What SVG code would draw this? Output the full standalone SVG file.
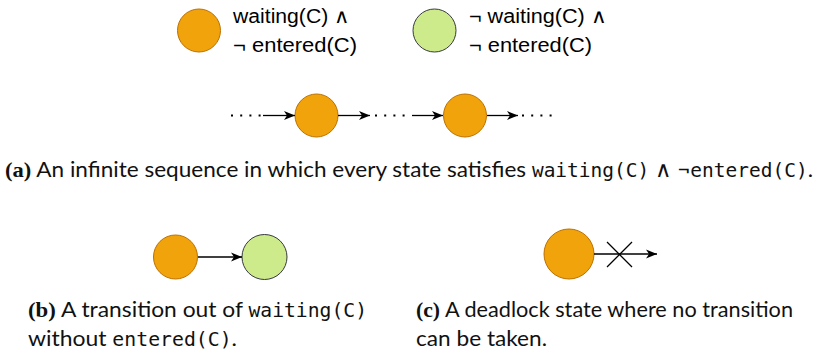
<svg xmlns="http://www.w3.org/2000/svg" width="823" height="357" viewBox="0 0 823 357">
  <style>
    .or { fill: #F0A30A; stroke: #BD7000; stroke-width: 1; }
    .gr { fill: #CDEB8B; stroke: #36393D; stroke-width: 1; }
    .lg { font-family: "Liberation Sans", Arial, sans-serif; font-size: 20px; fill: #000; }
    .cap { font-family: Lato, "Noto Sans", sans-serif; font-size: 22px; fill: #111; }
    .lbl { font-family: "Liberation Serif", serif; font-weight: bold; }
    .mono { font-family: "DejaVu Sans Mono", "Liberation Mono", monospace; font-size: 19px; }
    .edge { stroke: #000; stroke-width: 1.3; fill: none; }
    .dots { stroke: #000; stroke-width: 2; fill: none; stroke-dasharray: 2 7.2; }
  </style>
  <defs>
    <marker id="arr" markerUnits="userSpaceOnUse" markerWidth="14" markerHeight="12" refX="11" refY="5" orient="auto">
      <path d="M0,0.5 L11,5 L0,9.5 L3,5 Z" fill="#000"/>
    </marker>
  </defs>
  <rect width="823" height="357" fill="#fff"/>

  <!-- legend -->
  <g id="legend-orange">
    <circle class="or" cx="199" cy="30.5" r="21.5"/>
    <text class="lg" x="233" y="23" textLength="117" lengthAdjust="spacingAndGlyphs">waiting(C) ∧</text>
    <text class="lg" x="233" y="52" textLength="124" lengthAdjust="spacingAndGlyphs">¬ entered(C)</text>
  </g>
  <g id="legend-green">
    <circle class="gr" cx="434.5" cy="30.5" r="21.5"/>
    <text class="lg" x="469" y="23" textLength="138" lengthAdjust="spacingAndGlyphs">¬ waiting(C) ∧</text>
    <text class="lg" x="469" y="52" textLength="123" lengthAdjust="spacingAndGlyphs">¬ entered(C)</text>
  </g>

  <!-- nodes -->
  <g id="a-s1"><circle class="or" cx="316.5" cy="115.5" r="21.5"/></g>
  <g id="a-s2"><circle class="or" cx="465" cy="115.5" r="21.5"/></g>
  <g id="b-s1"><circle class="or" cx="175.5" cy="257" r="22"/></g>
  <g id="b-s2"><circle class="gr" cx="264.5" cy="257" r="22.5"/></g>
  <g id="c-s1"><circle class="or" cx="569" cy="254" r="25"/></g>

  <!-- connectors -->
  <g id="connectors">
    <line class="dots" x1="231" y1="115.5" x2="262" y2="115.5"/>
    <line class="edge" x1="263" y1="115.5" x2="295" y2="115.5" marker-end="url(#arr)"/>
    <line class="edge" x1="338" y1="115.5" x2="370" y2="115.5" marker-end="url(#arr)"/>
    <line class="dots" x1="375" y1="115.5" x2="406" y2="115.5"/>
    <line class="edge" x1="412" y1="115.5" x2="443" y2="115.5" marker-end="url(#arr)"/>
    <line class="edge" x1="487" y1="115.5" x2="518" y2="115.5" marker-end="url(#arr)"/>
    <line class="dots" x1="522" y1="115.5" x2="553" y2="115.5"/>

    <line class="edge" x1="198" y1="257" x2="242" y2="257" marker-end="url(#arr)"/>

    <line class="edge" x1="594" y1="254" x2="657" y2="254" marker-end="url(#arr)"/>
    <line class="edge" x1="607" y1="242" x2="632" y2="267"/>
    <line class="edge" x1="607" y1="267" x2="632" y2="242"/>
  </g>

  <!-- captions -->
  <text class="cap" x="5" y="177" textLength="808" lengthAdjust="spacingAndGlyphs"><tspan class="lbl">(a)</tspan> An infinite sequence in which every state satisfies <tspan class="mono">waiting(C)</tspan> ∧ ¬<tspan class="mono">entered(C)</tspan>.</text>
  <text class="cap" x="28" y="317" textLength="339" lengthAdjust="spacingAndGlyphs"><tspan class="lbl">(b)</tspan> A transition out of <tspan class="mono">waiting(C)</tspan></text>
  <text class="cap" x="28" y="346" textLength="209" lengthAdjust="spacingAndGlyphs">without <tspan class="mono">entered(C)</tspan>.</text>
  <text class="cap" x="416" y="317" textLength="377" lengthAdjust="spacingAndGlyphs"><tspan class="lbl">(c)</tspan> A deadlock state where no transition</text>
  <text class="cap" x="416" y="346" textLength="131" lengthAdjust="spacingAndGlyphs">can be taken.</text>
</svg>
